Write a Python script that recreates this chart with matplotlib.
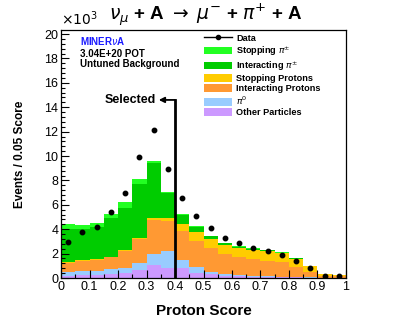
import numpy as np
import matplotlib
matplotlib.use("Agg")
import matplotlib.pyplot as plt
from matplotlib.patches import Patch
from matplotlib.lines import Line2D

plt.rcParams['font.family'] = ['Liberation Sans', 'DejaVu Sans']
plt.rcParams['mathtext.fontset'] = 'dejavusans'

# bins of proton score, width 0.05
edges = np.linspace(0, 1, 21)

# stacked components (x10^3 events), bottom to top
other = [0.19, 0.24, 0.27, 0.33, 0.43, 0.65, 1.06, 0.79, 0.78, 0.38,
         0.30, 0.20, 0.13, 0.10, 0.08, 0.06, 0.05, 0.03, 0.02, 0.02]
pi0 = [0.27, 0.33, 0.33, 0.38, 0.39, 0.55, 0.90, 1.39, 0.72, 0.49,
       0.22, 0.13, 0.11, 0.09, 0.07, 0.06, 0.04, 0.03, 0.02, 0.01]
int_protons = [0.79, 0.82, 0.87, 1.00, 1.41, 1.98, 2.83, 2.50, 2.34, 2.15,
               1.90, 1.66, 1.50, 1.39, 1.24, 1.16, 0.81, 0.46, 0.15, 0.11]
stop_protons = [0.05, 0.05, 0.05, 0.05, 0.07, 0.07, 0.11, 0.27, 0.56, 0.76,
                0.76, 0.70, 0.74, 0.73, 0.79, 0.73, 0.68, 0.43, 0.11, 0.08]
int_pions = [2.75, 2.54, 2.63, 3.19, 3.47, 4.48, 4.52, 2.02, 0.80, 0.40,
             0.25, 0.18, 0.10, 0.08, 0.08, 0.08, 0.05, 0.03, 0.03, 0.03]
stop_pions = [0.40, 0.37, 0.39, 0.33, 0.43, 0.41, 0.18, 0.10, 0.08, 0.06,
              0.05, 0.04, 0.03, 0.03, 0.03, 0.03, 0.03, 0.02, 0.02, 0.02]
data = [2.95, 3.75, 4.19, 5.39, 6.97, 9.96, 12.16, 8.95, 6.58, 5.09,
        4.14, 3.32, 2.86, 2.48, 2.23, 1.90, 1.39, 0.79, 0.19, 0.19]

comps = [
    (other, '#cc99ff', 'Other Particles'),
    (pi0, '#99ccff', r'$\pi^{0}$'),
    (int_protons, '#ff9933', 'Interacting Protons'),
    (stop_protons, '#ffcc00', 'Stopping Protons'),
    (int_pions, '#00cc00', r'Interacting $\pi^{\pm}$'),
    (stop_pions, '#22ff22', r'Stopping $\pi^{\pm}$'),
]

fig = plt.figure(figsize=(4.07, 3.28), dpi=100)
ax = fig.add_axes([0.15, 0.1524, 0.70, 0.756])

bottom = np.zeros(20)
for vals, col, lab in comps:
    ax.bar(edges[:-1], vals, width=0.05, align='edge', bottom=bottom,
           color=col, linewidth=0)
    bottom = bottom + np.array(vals)

centers = 0.5 * (edges[:-1] + edges[1:])
ax.plot(centers, data, 'o', color='black', markersize=3.2, zorder=5)

# selection cut
ax.plot([0.4, 0.4], [0, 14.6], color='black', lw=2, zorder=6)
ax.annotate('', xy=(0.343, 14.6), xytext=(0.4, 14.6),
            arrowprops=dict(arrowstyle='-|>', lw=1.3, color='black',
                            mutation_scale=8, shrinkA=0, shrinkB=0), zorder=6)
ax.text(0.333, 14.6, 'Selected', ha='right', va='center', fontsize=9,
        fontweight='bold')

ax.set_xlim(0, 1)
ax.set_ylim(0, 20.33)
ax.set_xticks(np.arange(0, 1.01, 0.1))
ax.set_xticklabels(['0', '0.1', '0.2', '0.3', '0.4', '0.5', '0.6', '0.7',
                    '0.8', '0.9', '1'])
ax.set_xticks(np.arange(0.05, 1, 0.1), minor=True)
ax.set_yticks(np.arange(0, 21, 2))
ax.set_yticks(np.arange(0, 20.4, 0.4), minor=True)
ax.tick_params(which='both', direction='in', labelsize=9, top=False,
               right=False, pad=2)
ax.tick_params(which='major', length=6, width=0.8)
ax.tick_params(which='minor', length=3, width=0.8)
for s in ax.spines.values():
    s.set_linewidth(0.9)

ax.set_xlabel('Proton Score', fontsize=11, fontweight='bold', labelpad=8)
ax.set_ylabel('Events / 0.05 Score', fontsize=8.5, fontweight='bold',
              labelpad=13)

ax.text(0.0, 1.01, r'$\times10^{3}$', transform=ax.transAxes, fontsize=10,
        ha='left', va='bottom')
fig.text(0.505, 0.955, r'$\nu_{\mu}$ + A $\rightarrow$ $\mu^{-}$ + $\pi^{+}$ + A',
         ha='center', va='center', fontsize=13.5, fontweight='bold')

ax.text(0.065, 0.955, r'MINER$\nu$A', transform=ax.transAxes, color='#1a1aff',
        fontsize=7, fontweight='bold', va='center')
ax.text(0.065, 0.905, '3.04E+20 POT', transform=ax.transAxes,
        fontsize=7, fontweight='bold', va='center')
ax.text(0.065, 0.865, 'Untuned Background', transform=ax.transAxes,
        fontsize=7, fontweight='bold', va='center')

handles = [Line2D([0], [0], color='black', marker='o', markersize=3, lw=1)]
labels = ['Data']
for vals, col, lab in reversed(comps):
    handles.append(Patch(facecolor=col, edgecolor='none'))
    labels.append(lab)
leg = ax.legend(handles, labels, loc='upper left', bbox_to_anchor=(0.49, 1.0),
                frameon=False, prop={'size': 6.6, 'weight': 'bold'},
                handlelength=3.0, handleheight=0.9, labelspacing=0.14,
                handletextpad=0.5, borderaxespad=0.0, borderpad=0.4)

fig.savefig('out.png', dpi=100)
